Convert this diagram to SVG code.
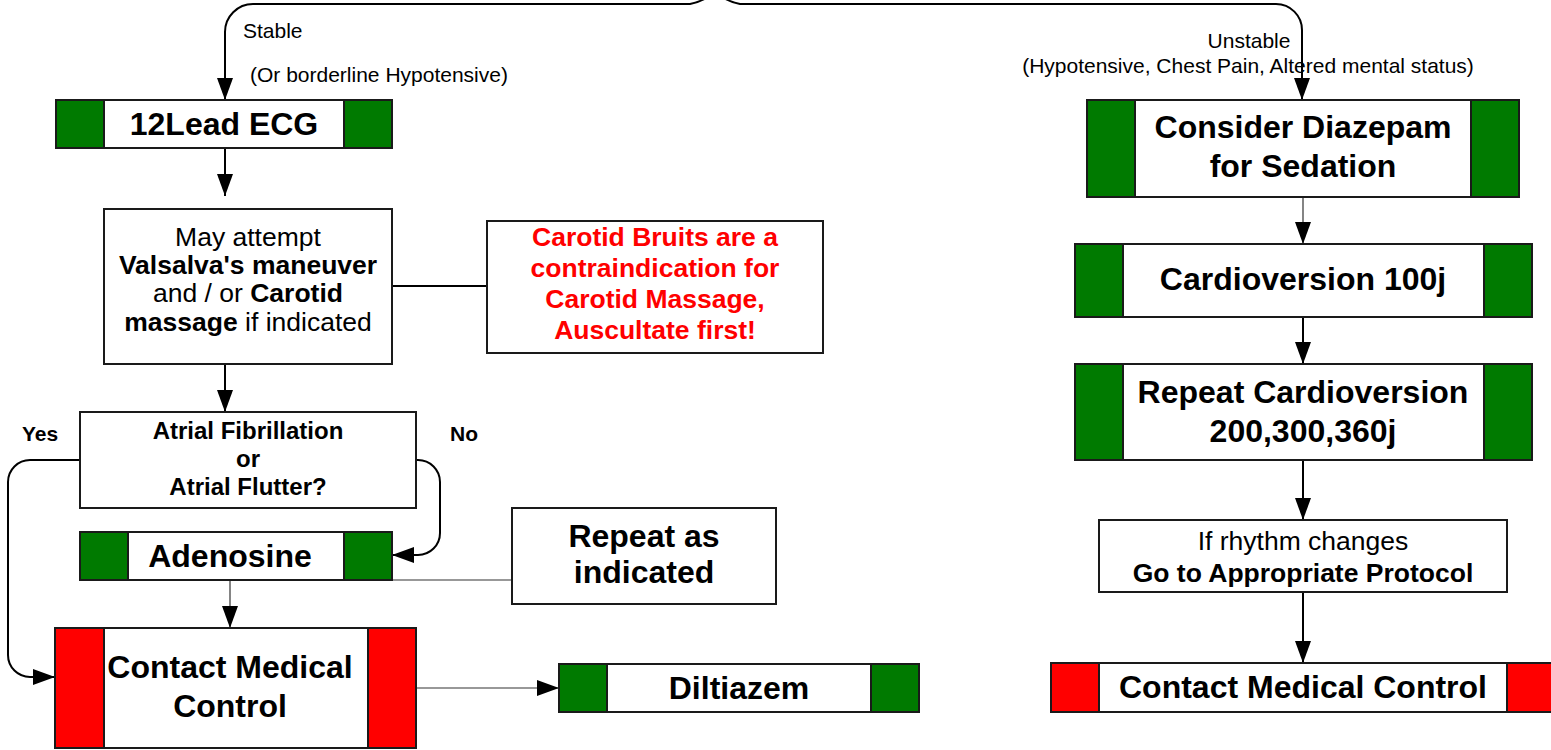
<svg xmlns="http://www.w3.org/2000/svg" width="1551" height="750" viewBox="0 0 1551 750">
<style>
.box{fill:#fff;stroke:#1a1a1a;stroke-width:2}
.g{fill:#007a00;stroke:#1a1a1a;stroke-width:2}
.r{fill:#ff0000;stroke:#1a1a1a;stroke-width:2}
.t{font-family:"Liberation Sans",Arial,sans-serif;fill:#000;text-anchor:middle}
.b{font-weight:bold}
.title{font-size:32px;font-weight:bold}
.lbl{font-family:"Liberation Sans",Arial,sans-serif;font-size:21px;fill:#000}
.red{fill:#ff0000}
.c{fill:none;stroke:#000;stroke-width:2}
.thin{fill:none;stroke:#333;stroke-width:1.2}
</style>
<defs>
<marker id="ah" markerUnits="userSpaceOnUse" markerWidth="22" markerHeight="16" refX="22" refY="8" orient="auto">
<path d="M0,0 L22,8 L0,16 z" fill="#000"/>
</marker>
</defs>

<g id="connectors">
<path class="c" d="M712,-6 A50,50 0 0 1 690,4 L253,4 A28,28 0 0 0 225,32 L225,100" marker-end="url(#ah)"/>
<path class="c" d="M718,-6 A50,50 0 0 0 740,4 L1276,4 A26,26 0 0 1 1302,30 L1302,100" marker-end="url(#ah)"/>
<path class="c" d="M225,148 L225,196" marker-end="url(#ah)"/>
<path class="c" d="M225,364 L225,412" marker-end="url(#ah)"/>
<path class="c" d="M392,286 L487,286"/>
<path class="c" d="M80,460 L30,460 A22,22 0 0 0 8,482 L8,655 A22,22 0 0 0 30,677 L55,677" marker-end="url(#ah)"/>
<path class="c" d="M416,460 L418,460 A22,22 0 0 1 440,482 L440,533 A22,22 0 0 1 418,555 L392,555" marker-end="url(#ah)"/>
<path class="thin" d="M392,580 L512,580"/>
<path class="thin" d="M230,580 L230,628" marker-end="url(#ah)"/>
<path class="thin" d="M416,688 L559,688" marker-end="url(#ah)"/>
<path class="thin" d="M1303,197 L1303,244" marker-end="url(#ah)"/>
<path class="c" d="M1303,317 L1303,364" marker-end="url(#ah)"/>
<path class="c" d="M1303,460 L1303,520" marker-end="url(#ah)"/>
<path class="c" d="M1303,592 L1303,663" marker-end="url(#ah)"/>
</g>

<g id="labels">
<text class="lbl" x="243" y="38">Stable</text>
<text class="lbl" x="250" y="82">(Or borderline Hypotensive)</text>
<text class="lbl" x="1249" y="48" text-anchor="middle">Unstable</text>
<text class="lbl" x="1248" y="73" text-anchor="middle">(Hypotensive, Chest Pain, Altered mental status)</text>
<text class="lbl" x="22" y="441" font-size="20" font-weight="bold">Yes</text>
<text class="lbl" x="450" y="441" font-size="20" font-weight="bold">No</text>
</g>

<g id="ecg">
<rect class="box" x="56" y="100" width="336" height="48"/>
<rect class="g" x="56" y="100" width="48" height="48"/>
<rect class="g" x="344" y="100" width="48" height="48"/>
<text class="t title" x="224" y="135">12Lead ECG</text>
</g>

<g id="valsalva">
<rect class="box" x="104" y="209" width="288" height="155"/>
<text class="t" font-size="26.5" x="248" y="246">May attempt</text>
<text class="t b" font-size="26.5" x="248" y="274">Valsalva's maneuver</text>
<text class="t" font-size="26.5" x="248" y="302">and / or <tspan font-weight="bold">Carotid</tspan></text>
<text class="t" font-size="26.5" x="248" y="331"><tspan font-weight="bold">massage</tspan> if indicated</text>
</g>

<g id="carotid">
<rect class="box" x="487" y="221" width="336" height="132"/>
<text class="t b red" font-size="26.5" x="655" y="246">Carotid Bruits are a</text>
<text class="t b red" font-size="26.5" x="655" y="277">contraindication for</text>
<text class="t b red" font-size="26.5" x="655" y="308">Carotid Massage,</text>
<text class="t b red" font-size="26.5" x="655" y="339">Auscultate first!</text>
</g>

<g id="afib">
<rect class="box" x="80" y="412" width="336" height="96"/>
<text class="t b" font-size="24" x="248" y="439">Atrial Fibrillation</text>
<text class="t b" font-size="24" x="248" y="467">or</text>
<text class="t b" font-size="24" x="248" y="495">Atrial Flutter?</text>
</g>

<g id="adenosine">
<rect class="box" x="80" y="532" width="312" height="48"/>
<rect class="g" x="80" y="532" width="48" height="48"/>
<rect class="g" x="344" y="532" width="48" height="48"/>
<text class="t title" x="230" y="567">Adenosine</text>
</g>

<g id="repeat">
<rect class="box" x="512" y="508" width="264" height="96"/>
<text class="t title" x="644" y="547">Repeat as</text>
<text class="t title" x="644" y="583">indicated</text>
</g>

<g id="cmc-left">
<rect class="box" x="55" y="628" width="361" height="120"/>
<rect class="r" x="55" y="628" width="49" height="120"/>
<rect class="r" x="368" y="628" width="48" height="120"/>
<text class="t title" x="230" y="678">Contact Medical</text>
<text class="t title" x="230" y="717">Control</text>
</g>

<g id="diltiazem">
<rect class="box" x="559" y="664" width="360" height="48"/>
<rect class="g" x="559" y="664" width="48" height="48"/>
<rect class="g" x="871" y="664" width="48" height="48"/>
<text class="t title" x="739" y="699">Diltiazem</text>
</g>

<g id="diazepam">
<rect class="box" x="1087" y="100" width="432" height="97"/>
<rect class="g" x="1087" y="100" width="48" height="97"/>
<rect class="g" x="1471" y="100" width="48" height="97"/>
<text class="t title" x="1303" y="138">Consider Diazepam</text>
<text class="t title" x="1303" y="177">for Sedation</text>
</g>

<g id="cardio100">
<rect class="box" x="1075" y="244" width="457" height="73"/>
<rect class="g" x="1075" y="244" width="48" height="73"/>
<rect class="g" x="1484" y="244" width="48" height="73"/>
<text class="t title" x="1303" y="290">Cardioversion 100j</text>
</g>

<g id="cardio-repeat">
<rect class="box" x="1075" y="364" width="457" height="96"/>
<rect class="g" x="1075" y="364" width="48" height="96"/>
<rect class="g" x="1484" y="364" width="48" height="96"/>
<text class="t title" x="1303" y="403">Repeat Cardioversion</text>
<text class="t title" x="1303" y="442">200,300,360j</text>
</g>

<g id="rhythm">
<rect class="box" x="1099" y="520" width="408" height="72"/>
<text class="t" font-size="26.5" x="1303" y="550">If rhythm changes</text>
<text class="t b" font-size="26.5" x="1303" y="582">Go to Appropriate Protocol</text>
</g>

<g id="cmc-right">
<rect class="box" x="1051" y="663" width="504" height="49"/>
<rect class="r" x="1051" y="663" width="48" height="49"/>
<rect class="r" x="1507" y="663" width="48" height="49"/>
<text class="t title" x="1303" y="698">Contact Medical Control</text>
</g>
</svg>
